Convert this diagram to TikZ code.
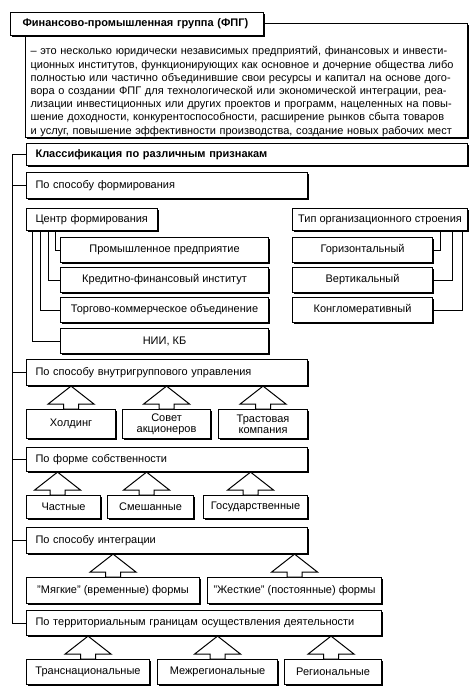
\documentclass[tikz,border=0pt]{standalone}
\usepackage{fontspec}
\setmainfont{Liberation Sans}
\usetikzlibrary{shadows}

% up-pointing block arrow from a child box to its parent box
\newcommand{\upblock}[3][0]{%
  \path (#2.north) ++(#1,0) coordinate (foot);
  \coordinate (tip) at (foot |- #3.south);
  \draw[blockarrow] (tip) -- ([shift={(23,18)}]tip) -- ([shift={(7.5,18)}]tip)
      -- ([shift={(7.5,0)}]foot) -- ([shift={(-7.5,0)}]foot)
      -- ([shift={(-7.5,18)}]tip) -- ([shift={(-23,18)}]tip) -- cycle;
}

\begin{document}
\begin{tikzpicture}[x=1pt, y=-1pt,
    box/.style={draw, line width=1.1pt, fill=white, anchor=north west, inner sep=0pt,
        font=\fontsize{11}{13.2}\selectfont,
        drop shadow={shadow xshift=1.2pt, shadow yshift=-1.2pt, fill=black, opacity=1}},
    lbox/.style 2 args={box, text width=#1, minimum height=#2, inner xsep=9pt, align=left},
    cbox/.style 2 args={box, minimum width=#1, minimum height=#2, align=center},
    conn/.style={line width=1pt},
    blockarrow/.style={line width=1pt, fill=white, line join=miter}]

\useasboundingbox (0,0) rectangle (474,695);

% ============================
\node[box, text width=432pt, inner xsep=5pt, minimum height=114pt, align=left] (defin) at (25,23)
    {\rule{0pt}{30pt}\makebox[432pt][s]{– это несколько юридически независимых предприятий, финансовых и инвести-}\\
     \makebox[432pt][s]{ционных институтов, функционирующих как основное и дочерние общества либо}\\
     \makebox[432pt][s]{полностью или частично объединившие свои ресурсы и капитал на основе дого-}\\
     \makebox[432pt][s]{вора о создании ФПГ для технологической или экономической интеграции, реа-}\\
     \makebox[432pt][s]{лизации инвестиционных или других проектов и программ, нацеленных на повы-}\\
     \makebox[432pt][s]{шение доходности, конкурентоспособности, расширение рынков сбыта товаров}\\
     \makebox[432pt][s]{и услуг, повышение эффективности производства, создание новых рабочих мест}};

\node[lbox={229pt}{23pt}, inner xsep=12pt, font=\fontsize{11}{13.2}\selectfont\bfseries] (fpg) at (10,12)
    {Финансово-промышленная группа (ФПГ)};

% ============================
\node[lbox={423pt}{22pt}, font=\fontsize{11}{13.2}\selectfont\bfseries] (klass) at (26,143)
    {Классификация по различным признакам};

\node[lbox={263pt}{26pt}] (sposob) at (26,172) {По способу формирования};

\node[lbox={113pt}{22pt}] (centr) at (26,208) {Центр формирования};
\node[cbox={175pt}{22pt}] (tipstr) at (292,208) {Тип организационного строения};

\node[cbox={208pt}{25pt}] (prom)   at (60,237) {Промышленное предприятие};
\node[cbox={208pt}{25pt}] (kredit) at (60,267) {Кредитно-финансовый институт};
\node[cbox={208pt}{25pt}] (torg)   at (60,297) {Торгово-коммерческое объединение};
\node[cbox={208pt}{25pt}] (nii)    at (60,328) {НИИ, КБ};

\node[cbox={140pt}{25pt}] (goriz) at (292,237) {Горизонтальный};
\node[cbox={140pt}{25pt}] (vert)  at (292,267) {Вертикальный};
\node[cbox={140pt}{25pt}] (kongl) at (292,297) {Конгломеративный};

% ============================
\node[lbox={263pt}{26pt}] (upravl) at (26,359) {По способу внутригруппового управления};

\node[cbox={89pt}{29pt}] (holding) at (26,409)  {Холдинг};
\node[cbox={88pt}{29pt}] (sovet)   at (122,409) {Совет\\[-2pt]акционеров};
\node[cbox={89pt}{29pt}] (trast)   at (218,409) {Трастовая\\[-2pt]компания};

% ============================
\node[lbox={263pt}{24pt}] (sobstv) at (26,447) {По форме собственности};

\node[cbox={74pt}{23pt}]  (chastn) at (26,495)  {Частные};
\node[cbox={86pt}{23pt}]  (smesh)  at (107,495) {Смешанные};
\node[cbox={104pt}{23pt}] (gosud)  at (203,495) {Государственные};

% ============================
\node[lbox={263pt}{26pt}] (integr) at (26,527) {По способу интеграции};

\node[cbox={173pt}{26pt}] (myagk)  at (26,577)  {"Мягкие" (временные) формы};
\node[cbox={174pt}{26pt}] (zhestk) at (207,577) {"Жесткие" (постоянные) формы};

% ============================
\node[lbox={337pt}{25pt}] (territ) at (26,610) {По территориальным границам осуществления деятельности};

\node[cbox={123pt}{25pt}] (transn)  at (26,659)  {Транснациональные};
\node[cbox={120pt}{25pt}] (mezhreg) at (157,659) {Межрегиональные};
\node[cbox={97pt}{25pt}]  (region)  at (284,659) {Региональные};

% ============================
\foreach \n in {sposob,upravl,sobstv,integr,territ}
    \draw[conn] (klass.west) -- ++(-14,0) |- (\n.west);

\foreach \n/\x in {prom/55,kredit/48,torg/40,nii/32}
    \draw[conn] (centr.south -| \x,0) |- (\n.west);

\foreach \n/\x in {goriz/440,vert/452,kongl/462}
    \draw[conn] (tipstr.south -| \x,0) |- (\n.east);

% ============================
\upblock{holding}{upravl}
\upblock{sovet}{upravl}
\upblock{trast}{upravl}

\upblock[-6]{chastn}{sobstv}
\upblock[-4]{smesh}{sobstv}
\upblock[-5]{gosud}{sobstv}

\upblock{myagk}{integr}
\upblock{zhestk}{integr}

\upblock{transn}{territ}
\upblock{mezhreg}{territ}
\upblock[-2]{region}{territ}

\end{tikzpicture}
\end{document}
